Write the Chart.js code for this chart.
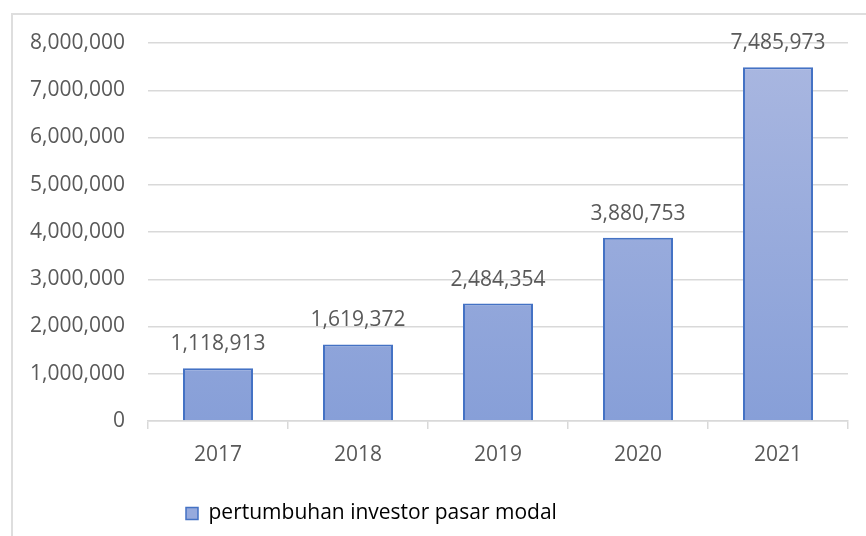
<!DOCTYPE html>
<html>
<head>
<meta charset="utf-8">
<script src="https://cdn.jsdelivr.net/npm/chart.js@4/dist/chart.umd.min.js"></script>
<style>
  html, body { margin: 0; padding: 0; background: #fff; overflow: hidden; }
  #wrap { position: relative; width: 866px; height: 536px; }
  #frame { position: absolute; left: 11px; top: 13px; width: 900px; height: 600px;
           border-left: 2px solid #dedede; border-top: 2px solid #dedede; box-sizing: border-box; }
  canvas { position: absolute; left: 0; top: 0; }
</style>
</head>
<body>
<div id="wrap">
  <div id="frame"></div>
  <canvas id="c" width="866" height="536"></canvas>
</div>
<script>
const categories = ['2017', '2018', '2019', '2020', '2021'];
const investors = [1118913, 1619372, 2484354, 3880753, 7485973];
const seriesName = 'pertumbuhan investor pasar modal';
const yTicks = [0, 1000000, 2000000, 3000000, 4000000, 5000000, 6000000, 7000000, 8000000];

const FONT = { family: '"Open Sans", Lato, sans-serif', size: 21 };
const TEXT = '#595959';
const fmt = v => v.toLocaleString('en-US');

const gradientBars = {
  id: 'gradientBars',
  beforeDatasetsDraw(chart) {
    const ctx = chart.ctx;
    chart.getDatasetMeta(0).data.forEach(bar => {
      const g = ctx.createLinearGradient(0, bar.y, 0, bar.base);
      g.addColorStop(0, '#a8b6e0');
      g.addColorStop(1, '#879fd8');
      bar.options.backgroundColor = g;
    });
  }
};

const dataLabels = {
  id: 'dataLabels',
  afterDatasetsDraw(chart) {
    const ctx = chart.ctx;
    const ds = chart.data.datasets[0];
    ctx.save();
    ctx.font = `${FONT.size}px ${FONT.family}`;
    ctx.fillStyle = TEXT;
    ctx.textAlign = 'center';
    ctx.textBaseline = 'alphabetic';
    chart.getDatasetMeta(0).data.forEach((bar, i) => {
      ctx.fillText(fmt(ds.data[i]), bar.x, bar.y - 18);
    });
    ctx.restore();
  }
};

const legendPlace = {
  id: 'legendPlace',
  afterLayout(chart) {
    const lg = chart.legend;
    const w = lg.right - lg.left;
    lg.left = 176;
    lg.right = 176 + w;
  }
};

new Chart(document.getElementById('c'), {
  type: 'bar',
  data: {
    labels: categories,
    datasets: [{
      label: seriesName,
      data: investors,
      backgroundColor: '#96aadd',
      borderColor: '#4472c4',
      borderWidth: 2,
      barPercentage: 0.5,
      categoryPercentage: 1.0
    }]
  },
  options: {
    responsive: false,
    animation: false,
    devicePixelRatio: 1,
    layout: { padding: { top: 43, right: 18, bottom: 2, left: 0 } },
    plugins: {
      legend: {
        position: 'bottom',
        align: 'start',
        labels: {
          boxWidth: 12,
          boxHeight: 12,
          padding: 10,
          color: TEXT,
          font: FONT,
          generateLabels: (chart) => [{
            text: seriesName,
            fillStyle: '#96aadd',
            strokeStyle: '#4472c4',
            lineWidth: 1.5,
            datasetIndex: 0
          }]
        }
      },
      tooltip: { enabled: false },
      title: { display: false }
    },
    scales: {
      x: {
        grid: { drawOnChartArea: false, drawTicks: true, tickLength: 8, offset: true, color: '#d9d9d9', lineWidth: 1.5 },
        border: { display: true, color: '#d9d9d9', width: 1.5 },
        ticks: { color: TEXT, font: FONT, padding: 13 },
        afterFit(scale) { scale.height = 72; }
      },
      y: {
        min: 0,
        max: 8000000,
        afterBuildTicks(scale) { scale.ticks = yTicks.map(v => ({ value: v })); },
        grid: { drawTicks: false, color: '#d9d9d9', lineWidth: 1.5 },
        border: { display: false },
        ticks: { color: TEXT, font: FONT, padding: 23, callback: v => fmt(v) },
        afterFit(scale) { scale.width = 148; }
      }
    }
  },
  plugins: [gradientBars, dataLabels, legendPlace]
});
</script>
</body>
</html>
